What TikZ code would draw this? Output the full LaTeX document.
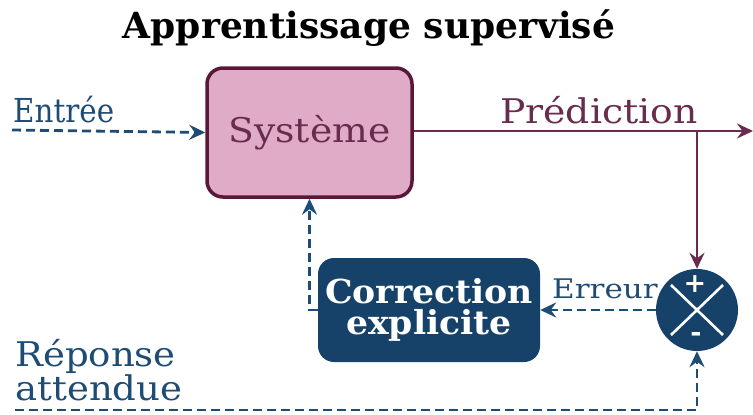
\documentclass[tikz,border=0pt]{standalone}
\usepackage{graphicx}
\usepackage{fontspec}
\setmainfont{DejaVu Serif}
\usetikzlibrary{arrows.meta}
\definecolor{navy}{HTML}{16426A}
\definecolor{labelblue}{HTML}{1E4C74}
\definecolor{wine}{HTML}{5A1838}
\definecolor{winetext}{HTML}{6A2C4E}
\definecolor{pinkfill}{HTML}{E0ABC7}
% horizontally widened text
\newcommand{\widetext}[2]{\scalebox{#1}[1]{#2}}
\tikzset{
  sysbox/.style={draw=wine, line width=3.5pt, fill=pinkfill, rounded corners=16pt,
    minimum width=205pt, minimum height=129pt, text=winetext, font=\fontsize{34}{38}\selectfont},
  corrbox/.style={fill=navy, rounded corners=16pt, minimum width=222pt, minimum height=104pt,
    text=white, align=center, font=\bfseries\fontsize{33}{31}\selectfont},
  sumnode/.style={circle, fill=navy, minimum size=82pt, inner sep=0pt},
  lbl/.style={text=labelblue, inner sep=0pt, font=\fontsize{33}{30}\selectfont},
  arrowtip/.style={-{Stealth[length=16pt, width=15pt, inset=5.5pt]}},
  dashline/.style={draw=labelblue, line width=2.8pt, dash pattern=on 9pt off 5pt, arrowtip},
  predline/.style={draw=winetext, line width=2.8pt, arrowtip},
}
\begin{document}
\begin{tikzpicture}[x=1pt, y=-1pt]
\useasboundingbox (0,0) rectangle (753,415);

% title
\node[anchor=base, inner sep=0pt, font=\bfseries\fontsize{36}{40}\selectfont] (title) at (369,38) {Apprentissage supervisé};

% blocks
\node[sysbox] (sys) at (309.5,132.5) {\widetext{1.11}{Système}};
\node[corrbox] (corr) at (429,310) {\widetext{1.05}{Correction}\\\widetext{1.05}{explicite}};
\node[sumnode] (sum) at (697,310) {};
\draw[white, line width=2.6pt] (sum.center) +(-26,-25) -- +(26,25);
\draw[white, line width=2.6pt] (sum.center) +(26,-25) -- +(-26,25);
\node[text=white, inner sep=0pt, font=\bfseries\fontsize{27}{28}\selectfont] (plus) at (695,284) {+};
\node[text=white, inner sep=0pt, font=\bfseries\fontsize{27}{28}\selectfont] (minus) at (696,337) {-};

% labels
\node[lbl, anchor=base west] (lin) at (13,122) {\widetext{0.89}{Entrée}};
\node[lbl, anchor=base west, text=winetext, font=\fontsize{34}{38}\selectfont] (lpred) at (500,123) {\widetext{1.11}{Prédiction}};
\node[lbl, anchor=base west, font=\fontsize{27}{30}\selectfont] (lerr) at (552,298) {\widetext{1.15}{Erreur}};
\node[lbl, anchor=base west, align=left, font=\fontsize{34}{30}\selectfont] (lrep) at (15,400) {\widetext{1.09}{Réponse}\\\widetext{1.09}{attendue}};

% connection points
\coordinate (in) at (12,130);
\coordinate (out) at (753,131);
\coordinate (br) at (697,131);
\coordinate (rep) at (15,410);

% connectors
\draw[dashline] (in) -- (sys.west);
\draw[predline] (sys.east |- out) -- (out);
\draw[predline] (br) -- (sum.north);
\draw[dashline] (sum.west) -- (corr.east);
\draw[dashline] (corr.west) -| (sys.south);
\draw[dashline] (rep) -| (sum.south);
\end{tikzpicture}
\end{document}
